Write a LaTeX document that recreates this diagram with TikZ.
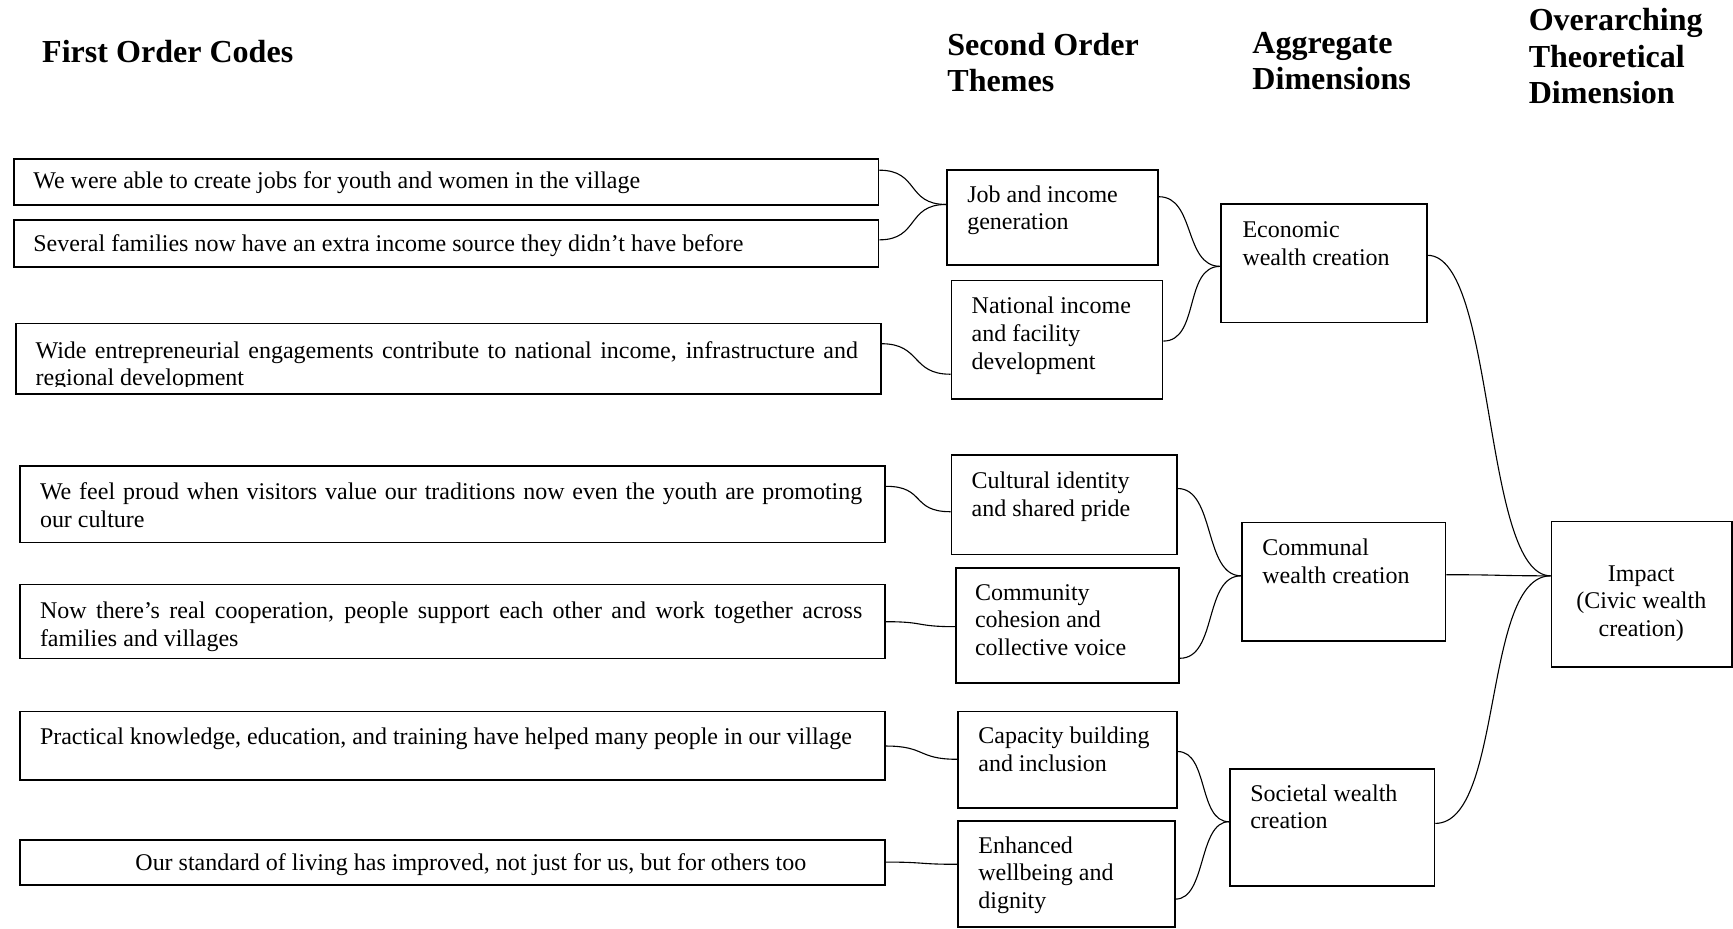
\documentclass[tikz,border=0pt]{standalone}
\usepackage{fontspec}
\setmainfont{Liberation Serif}
\usetikzlibrary{calc}

\newcommand\bodyfont{\fontsize{21.7}{25}\selectfont}
\newcommand\headfont{\bfseries\fontsize{29}{33}\selectfont}

% curved connector from the right side of one box to the left side of another;
% #2 and #4 are offsets below the top edges, #5 is the horizontal pull of the curve
\newcommand\link[5]{%
  \draw[conn] ($(#1.north east)+(0,#2)$) .. controls +(#5,0) and +(-#5,0) .. ($(#3.north west)+(0,#4)$);}

\tikzset{
  box/.style={draw, line width=1.6pt, inner sep=0pt, anchor=north west},
  conn/.style={draw, line width=1pt},
  txt/.style={inner sep=0pt, anchor=base west, font=\bodyfont},
  ctxt/.style={inner sep=0pt, anchor=base, font=\bodyfont},
  head/.style={inner sep=0pt, anchor=base west, font=\headfont, align=left},
}

\begin{document}
\begin{tikzpicture}[x=1pt, y=-1pt]
\useasboundingbox (0,0) rectangle (1568,840);

% column headings
\node[head] (h1) at (38,57) {First Order Codes};
\node[head] (h2) at (857,50) {\parbox[t]{200pt}{Second Order\\Themes}};
\node[head] (h3) at (1133,48) {\parbox[t]{200pt}{Aggregate\\Dimensions}};
\node[head] (h4) at (1383,28) {\parbox[t]{200pt}{Overarching\\Theoretical\\Dimension}};

% first order codes
\node[box, minimum width=782pt, minimum height=42pt] (l1) at (12,143) {};
\node[txt] (l1t) at (30,171) {We were able to create jobs for youth and women in the village};

\node[box, minimum width=782pt, minimum height=43pt] (l2) at (12,198) {};
\node[txt] (l2t) at (30,228) {Several families now have an extra income source they didn’t have before};

\node[box, minimum width=782pt, minimum height=64pt] (l3) at (14,292) {};
\begin{scope}
  % the second line is cut off just above the frame
  \clip (l3.north west) rectangle ($(l3.south east)+(0,-8)$);
  \node[txt] (l3t) at (32,324) {\parbox[t]{744pt}{\makebox[744pt][s]{Wide entrepreneurial engagements contribute to national income, infrastructure and}\\regional development}};
\end{scope}

\node[box, minimum width=783pt, minimum height=69pt] (l4) at (17,421) {};
\node[txt] (l4t) at (36,452) {\parbox[t]{744pt}{\makebox[744pt][s]{We feel proud when visitors value our traditions now even the youth are promoting}\\our culture}};

\node[box, minimum width=783pt, minimum height=67pt] (l5) at (17,528) {};
\node[txt] (l5t) at (36,560) {\parbox[t]{744pt}{\makebox[744pt][s]{Now there’s real cooperation, people support each other and work together across}\\families and villages}};

\node[box, minimum width=783pt, minimum height=62pt] (l6) at (17,643) {};
\node[txt] (l6t) at (36,674) {Practical knowledge, education, and training have helped many people in our village};

\node[box, minimum width=783pt, minimum height=41pt] (l7) at (17,759) {};
\node[ctxt] (l7t) at (426,788) {Our standard of living has improved, not just for us, but for others too};

% second order themes
\node[box, minimum width=191pt, minimum height=86pt] (s1) at (856,153) {};
\node[txt] (s1t) at (875,183) {\parbox[t]{180pt}{Job and income\\generation}};

\node[box, minimum width=191pt, minimum height=107pt] (s2) at (860,253) {};
\node[txt] (s2t) at (879,284) {\parbox[t]{180pt}{National income\\and facility\\development}};

\node[box, minimum width=204pt, minimum height=90pt] (s3) at (860,411) {};
\node[txt] (s3t) at (879,442) {\parbox[t]{180pt}{Cultural identity\\and shared pride}};

\node[box, minimum width=202pt, minimum height=104pt] (s4) at (864,513) {};
\node[txt] (s4t) at (882,543) {\parbox[t]{180pt}{Community\\cohesion and\\collective voice}};

\node[box, minimum width=198pt, minimum height=87pt] (s5) at (866,643) {};
\node[txt] (s5t) at (885,673) {\parbox[t]{180pt}{Capacity building\\and inclusion}};

\node[box, minimum width=196pt, minimum height=96pt] (s6) at (866,742) {};
\node[txt] (s6t) at (885,772) {\parbox[t]{180pt}{Enhanced\\wellbeing and\\dignity}};

% aggregate dimensions
\node[box, minimum width=186pt, minimum height=107pt] (a1) at (1104,184) {};
\node[txt] (a1t) at (1124,215) {\parbox[t]{170pt}{Economic\\wealth creation}};

\node[box, minimum width=184pt, minimum height=107pt] (a2) at (1123,472) {};
\node[txt] (a2t) at (1142,503) {\parbox[t]{170pt}{Communal\\wealth creation}};

\node[box, minimum width=185pt, minimum height=106pt] (a3) at (1112,695) {};
\node[txt] (a3t) at (1131,725) {\parbox[t]{170pt}{Societal wealth\\creation}};

% overarching dimension
\node[box, minimum width=163pt, minimum height=132pt] (o) at (1403,471) {};
\node[ctxt] (ot) at (1485,526) {\parbox[t]{150pt}{\centering Impact\\(Civic wealth\\creation)}};

% connectors: codes to themes
\link{l1}{11}{s1}{32}{36}
\link{l2}{19}{s1}{32}{36}
\link{l3}{19}{s2}{85.6}{36}
\link{l4}{19}{s3}{52}{36}
\link{l5}{34.5}{s4}{54}{36}
\link{l6}{32}{s5}{44}{36}
\link{l7}{21}{s6}{40}{36}

% themes to aggregate dimensions
\link{s1}{25}{a1}{57}{33}
\link{s2}{55.6}{a1}{57}{33}
\link{s3}{31}{a2}{49}{34}
\link{s4}{82.6}{a2}{49}{34}
\link{s5}{37}{a3}{48.5}{28}
\link{s6}{71.5}{a3}{48.5}{28}

% aggregate dimensions to impact
\link{a1}{47}{o}{50}{62}
\link{a2}{48}{o}{50}{50}
\link{a3}{50}{o}{50}{62}
\end{tikzpicture}
\end{document}
